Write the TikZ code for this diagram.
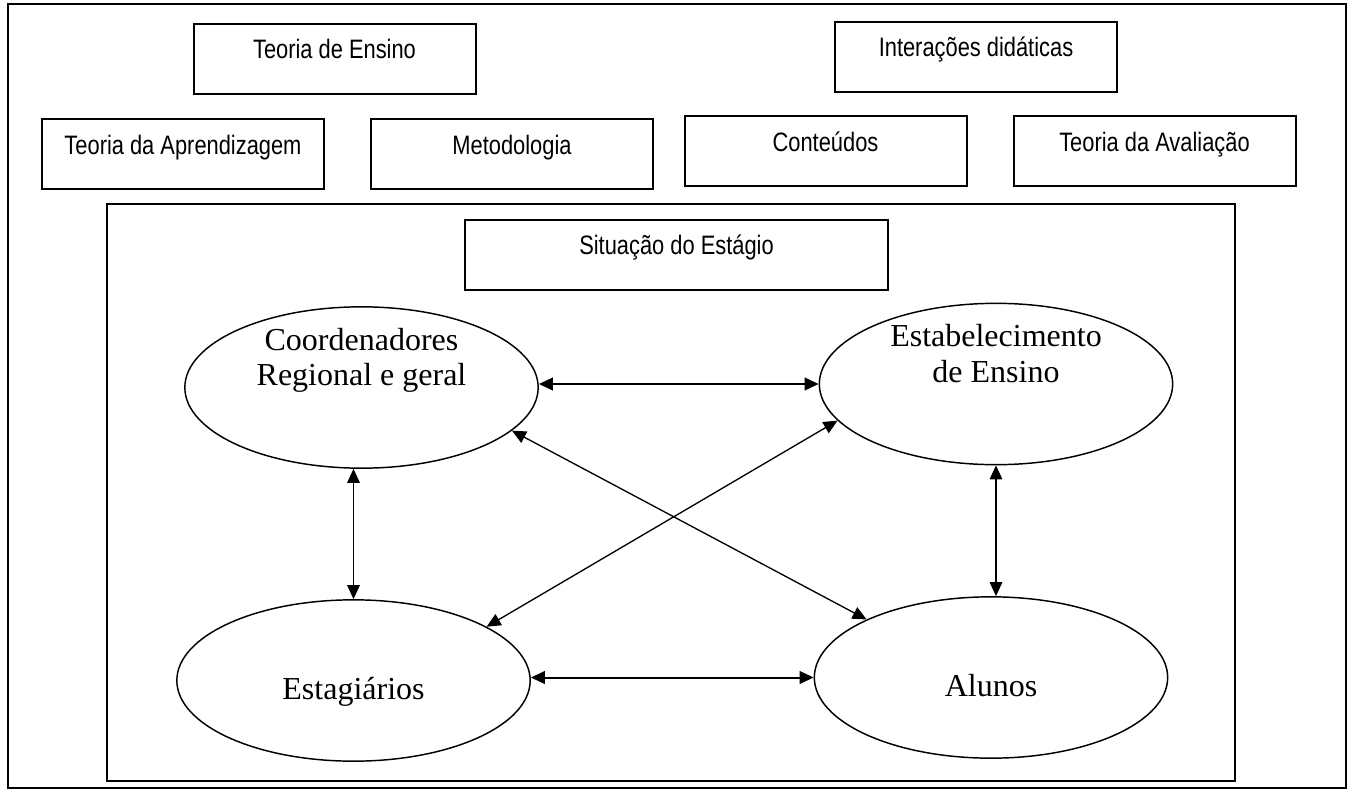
\documentclass[tikz,border=0pt]{standalone}
\usepackage{fontspec}
\setmainfont{Liberation Serif}
\newfontfamily\caixafonte[FakeStretch=0.82]{Liberation Sans}
\usetikzlibrary{shapes.geometric,arrows.meta}

\tikzset{every picture/.style={line width=0.75pt}}
\tikzset{
  caixa/.style={draw, line width=1.5pt, inner xsep=0pt, inner ysep=0pt, minimum width=211.5pt, text height=26.25pt, text depth=26.25pt, font=\caixafonte\fontsize{20}{24}\selectfont},
  elipse/.style={draw, ellipse, line width=1.1pt, inner sep=0pt, minimum width=265pt, minimum height=121pt, align=center, font=\fontsize{24}{26.5}\selectfont},
  umalinha/.style={text height=29pt, text depth=0pt},
  duaslinhas/.style={text height=27pt, text depth=29.6pt},
  seta/.style={<->, >={Triangle[length=10.5pt,width=9.5pt]}}
}

\begin{document}
\begin{tikzpicture}[x=0.75pt,y=0.75pt,yscale=-1,xscale=1]
\useasboundingbox (0,0) rectangle (1347,789);

%Shape: Rectangle (moldura)
\draw [line width=1.5pt] (8,4) rectangle (1346,788) ;
%Shape: Rectangle (estagio)
\draw [line width=1.5pt] (107,204) rectangle (1235,781) ;

% Caixas de cima
\node [caixa] (ensino) at (334.5,58.5) {Teoria de Ensino};
\node [caixa] (interacoes) at (976,56.5) {Interações didáticas};
\node [caixa] (aprendizagem) at (183,154) {Teoria da Aprendizagem};
\node [caixa] (metodologia) at (512,154) {Metodologia};
\node [caixa] (conteudos) at (825.5,151) {Conteúdos};
\node [caixa] (avaliacao) at (1154.5,151) {Teoria da Avaliação};
\node [caixa, minimum width=317pt] (situacao) at (676.5,254.5) {Situação do Estágio};

%Shape: Ellipse
\node [elipse, duaslinhas] (coord) at (361.5,387.5) {Coordenadores\\Regional e geral};
%Shape: Ellipse
\node [elipse, duaslinhas] (estab) at (996,384) {Estabelecimento\\de Ensino};
%Shape: Ellipse
\node [elipse, umalinha] (estag) at (353.5,680.5) {Estagiários};
%Shape: Ellipse
\node [elipse, umalinha] (alunos) at (991,677.5) {Alunos};

%Straight Lines
\draw [seta, line width=1.5pt] (coord.east |- estab.west) -- (estab.west) ;
\draw [seta, line width=1.5pt] (estag.east |- alunos.west) -- (alunos.west) ;
\draw [seta, line width=0.9pt] (estag.north |- coord.south) -- (estag.north) ;
\draw [seta, line width=0.9pt] (estab.south) -- (estab.south |- alunos.north) ;
\draw [seta, line width=1pt] (coord.-16) -- (alunos.155) ;
\draw [seta, line width=1pt] (estab.193) -- (estag.22) ;

\end{tikzpicture}
\end{document}
